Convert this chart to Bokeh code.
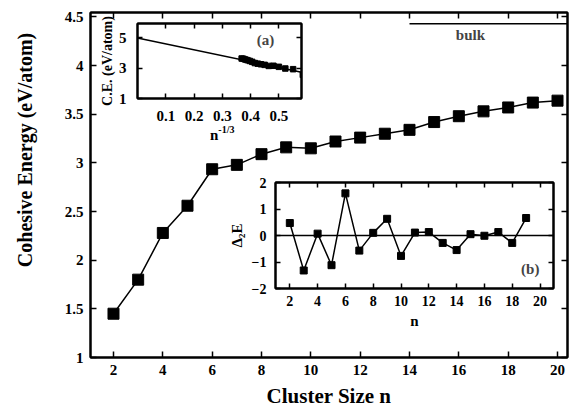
import math
from bokeh.plotting import figure
from bokeh.models import (Range1d, FixedTicker, LinearAxis, NumeralTickFormatter,
                          CustomJSTickFormatter, Label, Span, Div)
from bokeh.layouts import column
from bokeh.embed import file_html
from bokeh.resources import INLINE

FONT = "Liberation Serif"

# Cohesive energy per atom of the n-atom clusters
cluster_size = [2, 3, 4, 5, 6, 7, 8, 9, 10, 11, 12, 13, 14, 15, 16, 17, 18, 19, 20]
cohesive_energy = [1.45, 1.80, 2.28, 2.56, 2.935, 2.98, 3.09, 3.16, 3.15, 3.22,
                   3.26, 3.30, 3.34, 3.42, 3.48, 3.53, 3.57, 3.62, 3.64]

# Bulk cohesive energy and the n-interval over which it is marked
bulk_energy = 4.43
bulk_n = [14, 20.4]

# Second difference of the total energy, Delta_2 E(n)
second_diff_n = [2, 3, 4, 5, 6, 7, 8, 9, 10, 11, 12, 13, 14, 15, 16, 17, 18, 19]
second_diff = [0.47, -1.32, 0.07, -1.12, 1.59, -0.57, 0.10, 0.63, -0.77, 0.11,
               0.13, -0.28, -0.55, 0.05, -0.01, 0.13, -0.28, 0.66]

# Linear extrapolation of C.E. against n^(-1/3)
fit_intercept = 5.0
fit_slope = -3.9

main_x_ticks = [2, 4, 6, 8, 10, 12, 14, 16, 18, 20]
main_y_ticks = [1, 1.5, 2, 2.5, 3, 3.5, 4, 4.5]
inset_a_x_ticks = [0.1, 0.2, 0.3, 0.4, 0.5]
inset_a_y_ticks = [1, 3, 5]
inset_b_x_ticks = [2, 4, 6, 8, 10, 12, 14, 16, 18, 20]
inset_b_y_ticks = [-2, -1, 0, 1, 2]

# every panel in the column shares the same left/right border widths
BORDER_L = 90
BORDER_R = 5


def style_axis(ax, size, standoff, show_labels=True, tick_in=6):
    ax.axis_line_width = 2
    ax.axis_line_color = "black"
    ax.major_tick_line_width = 1.5
    ax.major_tick_line_color = "black"
    ax.major_tick_in = tick_in
    ax.major_tick_out = 0
    ax.minor_tick_line_color = None
    ax.major_label_text_font = FONT
    ax.major_label_text_font_style = "bold"
    ax.major_label_text_color = "black"
    ax.major_label_text_font_size = f"{size}px"
    ax.major_label_standoff = standoff
    ax.axis_label_text_font = FONT
    ax.axis_label_text_font_style = "bold"
    ax.axis_label_text_color = "black"
    if not show_labels:
        # tick marks only, no tick texts
        ax.formatter = CustomJSTickFormatter(code="return ''")
        ax.major_label_text_font_size = "1px"
        ax.major_label_standoff = 0


def add_mirror_axes(fig, xticks, yticks, tick_in):
    top = LinearAxis(ticker=FixedTicker(ticks=xticks))
    right = LinearAxis(ticker=FixedTicker(ticks=yticks))
    style_axis(top, 0, 0, show_labels=False, tick_in=tick_in)
    style_axis(right, 0, 0, show_labels=False, tick_in=tick_in)
    fig.add_layout(top, "above")
    fig.add_layout(right, "right")


def base_figure(**kw):
    fig = figure(output_backend="svg", toolbar_location=None,
                 min_border_left=BORDER_L, min_border_right=BORDER_R, **kw)
    fig.xgrid.visible = False
    fig.ygrid.visible = False
    fig.outline_line_color = "black"
    fig.outline_line_width = 2
    return fig


# ---------------- main panel ----------------
main = base_figure(width=572, height=413,
                   x_range=Range1d(1.068, 20.405), y_range=Range1d(1, 4.546),
                   min_border_top=12, min_border_bottom=56)
main.xaxis.ticker = FixedTicker(ticks=main_x_ticks)
main.yaxis.ticker = FixedTicker(ticks=main_y_ticks)
main.yaxis.formatter = NumeralTickFormatter(format="0.[0]")
style_axis(main.xaxis[0], 15, 7)
style_axis(main.yaxis[0], 15, 7)
main.xaxis.axis_label = "Cluster Size n"
main.xaxis.axis_label_text_font_size = "21px"
main.xaxis.axis_label_standoff = 6
# leading no-break spaces lift the title towards the top of the axis
main.yaxis.axis_label = "\u00a0" * 14 + "Cohesive Energy (eV/atom)"
main.yaxis.axis_label_text_font_size = "20px"
main.yaxis.axis_label_standoff = 26
add_mirror_axes(main, main_x_ticks, main_y_ticks, 6)

main.line(cluster_size, cohesive_energy, line_color="black", line_width=1.5)
main.scatter(cluster_size, cohesive_energy, marker="square", size=11,
             fill_color="black", line_color="black")
main.line(bulk_n, [bulk_energy, bulk_energy], line_color="black", line_width=1.5)
main.add_layout(Label(x=16.47, y=4.31, text="bulk", text_align="center",
                      text_baseline="middle", text_font=FONT,
                      text_font_style="bold", text_font_size="15px"))

# ---------------- inset (a): C.E. vs n^(-1/3) ----------------
inv_cbrt = [n ** (-1.0 / 3.0) for n in cluster_size]
a_x_end = 0.58
inset_a = base_figure(width=BORDER_L + 164 + BORDER_R, height=136,
                      x_range=Range1d(0, a_x_end), y_range=Range1d(1, 5.95),
                      min_border_top=18, min_border_bottom=43,
                      background_fill_alpha=0, border_fill_alpha=0,
                      styles={"position": "absolute", "left": "47px", "top": "5px"})
inset_a.xaxis.ticker = FixedTicker(ticks=inset_a_x_ticks)
inset_a.yaxis.ticker = FixedTicker(ticks=inset_a_y_ticks)
inset_a.xaxis.formatter = NumeralTickFormatter(format="0.[0]")
style_axis(inset_a.xaxis[0], 15, 12, tick_in=5)
style_axis(inset_a.yaxis[0], 15, 11, tick_in=5)
inset_a.yaxis.axis_label = "C.E. (eV/atom)"
inset_a.yaxis.axis_label_text_font_size = "14px"
inset_a.yaxis.axis_label_standoff = 1
add_mirror_axes(inset_a, inset_a_x_ticks, inset_a_y_ticks, 5)

fit_x = [0, a_x_end]
fit_y = [fit_intercept + fit_slope * v for v in fit_x]
inset_a.line(fit_x, fit_y, line_color="black", line_width=1.5)
inset_a.scatter(inv_cbrt, cohesive_energy, marker="square", size=5.5,
                fill_color="black", line_color="black")
inset_a.add_layout(Label(x=0.453, y=4.85, text="(a)", text_align="center",
                         text_baseline="middle", text_font=FONT,
                         text_font_style="bold", text_font_size="15px"))

# x title of inset (a), with its superscript exponent
inset_a_xtitle = Div(
    text=('<span style="font-family:\'Liberation Serif\';font-weight:bold;'
          'font-size:15px;line-height:15px;color:black;white-space:nowrap">n'
          '<span style="font-size:10px;position:relative;top:-7px">-1/3</span></span>'),
    width=40, height=18,
    styles={"position": "absolute", "left": "210px", "top": "128px", "margin": "0"})

# ---------------- inset (b): second difference ----------------
inset_b = base_figure(width=BORDER_L + 278 + BORDER_R, height=159,
                      x_range=Range1d(0.97, 20.97), y_range=Range1d(-2, 2),
                      min_border_top=5, min_border_bottom=48,
                      background_fill_alpha=0, border_fill_alpha=0,
                      styles={"position": "absolute", "left": "185px", "top": "177px"})
inset_b.xaxis.ticker = FixedTicker(ticks=inset_b_x_ticks)
inset_b.yaxis.ticker = FixedTicker(ticks=inset_b_y_ticks)
style_axis(inset_b.xaxis[0], 14, 7, tick_in=5)
style_axis(inset_b.yaxis[0], 14, 9, tick_in=5)
inset_b.xaxis.axis_label = "n"
inset_b.yaxis.axis_label = "\u0394\u2082E"
for ax in (inset_b.xaxis[0], inset_b.yaxis[0]):
    ax.axis_label_text_font_size = "15px"
    ax.axis_label_standoff = 4
add_mirror_axes(inset_b, inset_b_x_ticks, inset_b_y_ticks, 5)

inset_b.add_layout(Span(location=0, dimension="width", line_color="black", line_width=1.5))
inset_b.line(second_diff_n, second_diff, line_color="black", line_width=1.5)
inset_b.scatter(second_diff_n, second_diff, marker="square", size=7,
                fill_color="black", line_color="black")
inset_b.add_layout(Label(x=19.3, y=-1.25, text="(b)", text_align="center",
                         text_baseline="middle", text_font=FONT,
                         text_font_style="bold", text_font_size="15px"))

layout = column(main, inset_a, inset_b, inset_a_xtitle)
open("out.html", "w").write(file_html(layout, INLINE))
